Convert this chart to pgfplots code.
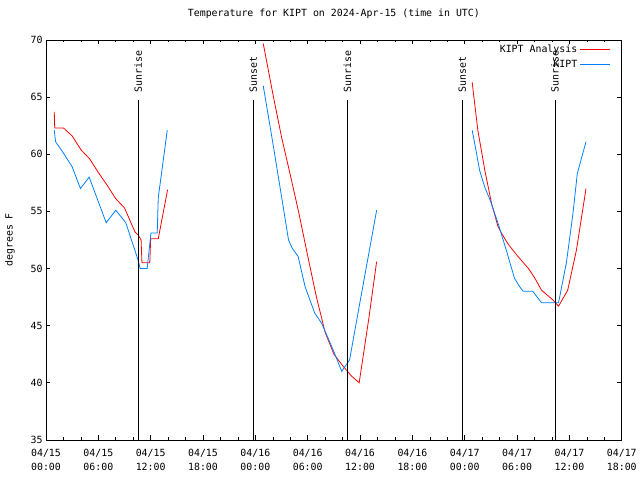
\documentclass[border=0pt]{standalone}
\usepackage{pgfplots}
\pgfplotsset{compat=1.18}
\usepackage{fontspec}
\setmainfont{DejaVu Sans Mono}
\definecolor{gpred}{RGB}{255,0,0}
\definecolor{gpblue}{RGB}{0,128,255}
\begin{document}
\begin{tikzpicture}[font=\fontsize{9.9bp}{12bp}\selectfont]
\begin{axis}[
  scale only axis, width=576bp, height=400bp,
  xmin=0, xmax=66, ymin=35, ymax=70,
  xtick={0,6,...,66},
  xticklabels={{04/15\\00:00},{04/15\\06:00},{04/15\\12:00},{04/15\\18:00},{04/16\\00:00},{04/16\\06:00},{04/16\\12:00},{04/16\\18:00},{04/17\\00:00},{04/17\\06:00},{04/17\\12:00},{04/17\\18:00}},
  xticklabel style={align=center, font=\fontsize{9.9bp}{14bp}\selectfont, yshift=-6bp},
  minor x tick num=2,
  ytick={35,40,...,70},
  yticklabel style={font=\fontsize{9.9bp}{12bp}\selectfont},
  /pgf/number format/assume math mode=true,
  major tick length=4.5bp, minor tick length=2.5bp,
  tick style={black, line width=0.6pt},
  axis line style={line width=0.6pt},
  title={Temperature for KIPT on 2024-Apr-15 (time in UTC)},
  title style={at={(0.5,1)}, anchor=center, yshift=20bp},
  unbounded coords=jump,
  legend style={draw=none, fill=none, at={(rel axis cs:0.98,0.993)}, anchor=north east,
    cells={anchor=east}, inner sep=0pt, row sep=2bp, font=\fontsize{9.9bp}{12bp}\selectfont},
  legend plot pos=right,
  legend image code/.code={\draw[#1] (0bp,0bp) -- (30bp,0bp);},
]
\addplot[gpred, line width=0.8pt] coordinates {
(0.95,63.7) (1.0,62.3) (2,62.3) (3,61.6) (4,60.4) (5,59.6) (6,58.4) (7,57.3) (8,56.1) (9,55.3) (10.2,53.2) (10.6,52.9) (10.9,52.5) (11.0,50.5) (11.9,50.5) (12.0,52.6) (12.87,52.6) (13.94,56.9)
(18,nan)
(24.9,69.7) (26,65.3) (27,61.5) (28,58.2) (29,54.8) (30,51.1) (31,47.5) (32,44.4) (33,42.5) (34,41.5) (35,40.6) (35.9,40.0) (37,45.6) (37.9,50.6)
(42,nan)
(48.85,66.3) (49.5,62.1) (50.3,58.6) (51.07,55.7) (51.8,53.7) (52.2,53.1) (53,52.1) (54.1,51.05) (55.3,50.0) (56.0,49.2) (56.8,48.1) (58.1,47.25) (58.75,46.7) (59.8,48.1) (60.8,51.6) (61.9,57.0)
};
\addlegendentry{KIPT Analysis}
\addplot[gpblue, line width=0.8pt] coordinates {
(0.95,62.1) (1.1,61.1) (2,60.1) (3,58.9) (3.95,57.0) (4.95,58.0) (6.9,54.0) (8.0,55.1) (9.15,54.0) (10.55,50.75) (10.8,50.0) (11.6,50.0) (12.03,53.1) (12.75,53.1) (12.87,56.2) (13.9,62.1)
(18,nan)
(24.9,66.0) (26,61.0) (27,56.3) (27.8,52.5) (28.2,51.8) (28.9,51.05) (29.7,48.4) (30.8,46.1) (31.6,45.2) (32.9,42.9) (33.9,41.0) (34.8,42.0) (36,47.1) (37,51.3) (37.9,55.1)
(42,nan)
(48.85,62.1) (49.3,60.3) (49.7,58.6) (50.3,57.1) (50.9,56.0) (51.8,54.0) (52.8,51.5) (53.7,49.15) (54.3,48.4) (54.7,48.0) (55.8,48.0) (56.8,47.0) (58.75,47.0) (59.65,50.5) (60.4,54.8) (60.9,58.3) (61.9,61.1)
};
\addlegendentry{KIPT}
\addplot[black, line width=0.6pt, forget plot] coordinates {(10.57,35) (10.57,64.75)};
\addplot[black, line width=0.6pt, forget plot] coordinates {(23.75,35) (23.75,64.75)};
\addplot[black, line width=0.6pt, forget plot] coordinates {(34.55,35) (34.55,64.75)};
\addplot[black, line width=0.6pt, forget plot] coordinates {(47.72,35) (47.72,64.75)};
\addplot[black, line width=0.6pt, forget plot] coordinates {(58.35,35) (58.35,64.75)};
\node[rotate=90, anchor=west, inner sep=0pt] at (axis cs:10.57,65.4) {Sunrise};
\node[rotate=90, anchor=west, inner sep=0pt] at (axis cs:23.75,65.4) {Sunset};
\node[rotate=90, anchor=west, inner sep=0pt] at (axis cs:34.55,65.4) {Sunrise};
\node[rotate=90, anchor=west, inner sep=0pt] at (axis cs:47.72,65.4) {Sunset};
\node[rotate=90, anchor=west, inner sep=0pt] at (axis cs:58.35,65.4) {Sunrise};
\end{axis}
\node[rotate=90] at ([xshift=-36bp]current axis.west) {degrees F};
\path ([xshift=-46bp,yshift=-40bp]current axis.south west) rectangle ++(640bp,480bp);
\end{tikzpicture}
\end{document}
